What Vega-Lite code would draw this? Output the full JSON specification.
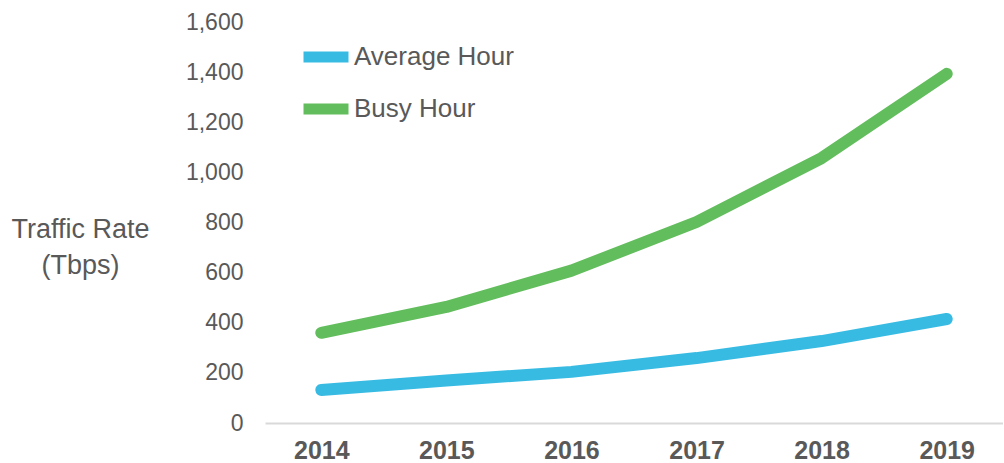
{
  "$schema": "https://vega.github.io/schema/vega-lite/v6.json",
  "width": 738,
  "height": 401,
  "autosize": {"type": "none"},
  "padding": {"left": 265, "top": 22, "right": 0, "bottom": 40},
  "background": "white",
  "config": {"view": {"stroke": null}, "font": "Liberation Sans"},
  "data": {
    "values": [
      {"year": "2014", "series": "Average Hour", "value": 132},
      {"year": "2015", "series": "Average Hour", "value": 170},
      {"year": "2016", "series": "Average Hour", "value": 204},
      {"year": "2017", "series": "Average Hour", "value": 259},
      {"year": "2018", "series": "Average Hour", "value": 327},
      {"year": "2019", "series": "Average Hour", "value": 415},
      {"year": "2014", "series": "Busy Hour", "value": 360},
      {"year": "2015", "series": "Busy Hour", "value": 463},
      {"year": "2016", "series": "Busy Hour", "value": 608},
      {"year": "2017", "series": "Busy Hour", "value": 802},
      {"year": "2018", "series": "Busy Hour", "value": 1057},
      {"year": "2019", "series": "Busy Hour", "value": 1393}
    ]
  },
  "mark": {"type": "line", "strokeWidth": 12, "strokeCap": "round", "strokeJoin": "round", "interpolate": "linear"},
  "encoding": {
    "x": {
      "field": "year", "type": "ordinal",
      "scale": {"type": "point", "padding": 0.45},
      "axis": {
        "title": null, "labelAngle": 0, "ticks": false,
        "domainColor": "#d9d9d9", "domainWidth": 2,
        "labelFontSize": 25, "labelFontWeight": "bold", "labelColor": "#595959",
        "labelPadding": 15
      }
    },
    "y": {
      "field": "value", "type": "quantitative",
      "scale": {"domain": [0, 1600], "nice": false},
      "axis": {
        "values": [0, 200, 400, 600, 800, 1000, 1200, 1400, 1600],
        "format": ",d",
        "domain": false, "ticks": false, "grid": false,
        "labelFontSize": 23, "labelColor": "#595959", "labelPadding": 22,
        "title": ["Traffic Rate", "(Tbps)"],
        "titleAngle": 0, "titleAlign": "center", "titleBaseline": "top",
        "titleX": -185, "titleY": 194,
        "titleFontSize": 27, "titleFontWeight": "normal", "titleColor": "#595959",
        "titleLineHeight": 36
      }
    },
    "color": {
      "field": "series", "type": "nominal",
      "scale": {"domain": ["Average Hour", "Busy Hour"], "range": ["#38BBE3", "#62BD5C"]},
      "legend": {
        "title": null, "orient": "none", "legendX": 33, "legendY": 7,
        "symbolType": "stroke", "symbolSize": 2025, "symbolStrokeWidth": 11,
        "labelFontSize": 26, "labelColor": "#595959", "labelOffset": 0,
        "rowPadding": 2, "labelLimit": 400
      }
    }
  }
}
